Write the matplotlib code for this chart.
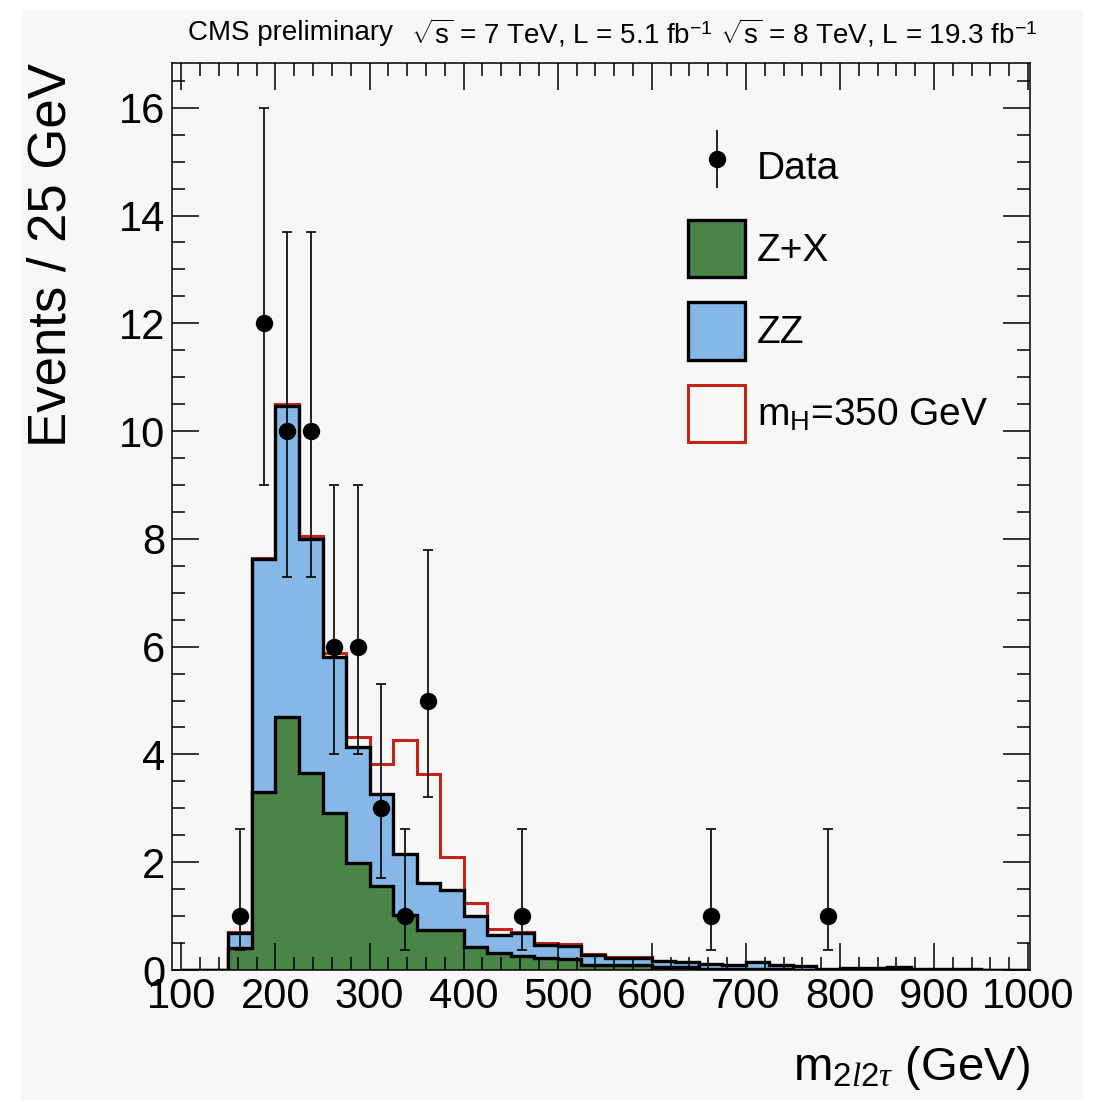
import matplotlib
matplotlib.use('Agg')
import matplotlib.pyplot as plt
import numpy as np
from matplotlib.ticker import MultipleLocator
from matplotlib.patches import Patch, Rectangle
from matplotlib.lines import Line2D

plt.rcParams['font.family'] = ['Liberation Sans', 'DejaVu Sans']
plt.rcParams['mathtext.fontset'] = 'custom'
plt.rcParams['mathtext.rm'] = 'Liberation Sans'
plt.rcParams['mathtext.sf'] = 'Liberation Sans'
plt.rcParams['mathtext.it'] = 'Liberation Serif:italic'

# bin edges, 25 GeV bins from 100 to 1000
edges = np.arange(100, 1001, 25)

# Z+X, total background (Z+X + ZZ) and total + signal (m_H = 350 GeV)
zx = [0, 0, 0.40, 3.30, 4.70, 3.65, 2.91, 1.99, 1.55, 1.02, 0.74, 0.74,
      0.43, 0.31, 0.26, 0.22, 0.20, 0.10, 0.09, 0.09, 0.06, 0.05, 0.02, 0.01,
      0.02, 0.01, 0, 0, 0, 0, 0, 0, 0, 0, 0, 0]
bkg_total = [0, 0, 0.68, 7.62, 10.46, 7.99, 5.81, 4.14, 3.26, 2.15, 1.62, 1.48,
             1.00, 0.65, 0.68, 0.46, 0.45, 0.28, 0.23, 0.23, 0.17, 0.15, 0.12, 0.10,
             0.14, 0.10, 0.07, 0.01, 0.03, 0.03, 0.06, 0.01, 0.01, 0.01, 0, 0]
sig_total = [0, 0, 0.70, 7.65, 10.51, 8.05, 5.89, 4.32, 3.83, 4.27, 3.63, 2.10,
             1.24, 0.77, 0.71, 0.50, 0.48, 0.29, 0.24, 0.24, 0.17, 0.15, 0.12, 0.10,
             0.14, 0.10, 0.07, 0.01, 0.03, 0.03, 0.06, 0.01, 0.01, 0.01, 0, 0]

# data points (bin centres, counts, asymmetric errors)
data_x = [162.5, 187.5, 212.5, 237.5, 262.5, 287.5, 312.5, 337.5, 362.5, 462.5, 662.5, 787.5]
data_n = [1, 12, 10, 10, 6, 6, 3, 1, 5, 1, 1, 1]
err_lo = [0.62, 3.0, 2.70, 2.70, 2.0, 2.0, 1.30, 0.62, 1.79, 0.62, 0.62, 0.62]
err_hi = [1.62, 4.0, 3.70, 3.70, 3.0, 3.0, 2.30, 1.62, 2.79, 1.62, 1.62, 1.62]

green = '#4a8447'
blue = '#85b8e7'
red = '#c42418'
bg = '#f7f7f7'

W, H = 1094, 1102
fig = plt.figure(figsize=(W / 100, H / 100), dpi=100, facecolor='white')
fig.patches.append(Rectangle((22 / W, 1 - 1100 / H), (1083 - 22) / W, (1100 - 10) / H,
                             transform=fig.transFigure, facecolor=bg, edgecolor='none', zorder=-10))

ax = fig.add_axes([172 / W, 1 - 970 / H, (1030 - 172) / W, (970 - 63) / H])
ax.set_facecolor(bg)

lw_black = 2.4
ax.stairs(sig_total, edges, baseline=0, fill=False, color=red, lw=2.2, zorder=1.2)
ax.stairs(bkg_total, edges, baseline=0, fill=True, facecolor=blue, edgecolor='none', zorder=1.3)
ax.stairs(bkg_total, edges, baseline=0, fill=False, color='black', lw=lw_black, zorder=1.4)
ax.stairs(zx, edges, baseline=0, fill=True, facecolor=green, edgecolor='none', zorder=1.5)
ax.stairs(zx, edges, baseline=0, fill=False, color='black', lw=lw_black, zorder=1.6)

ax.errorbar(data_x, data_n, yerr=[err_lo, err_hi], fmt='o', color='black',
            markersize=11.5, elinewidth=1.2, capsize=3.5, capthick=1.2, zorder=5)

ax.set_xlim(90, 1002)
ax.set_ylim(0, 16.83)
ax.xaxis.set_major_locator(MultipleLocator(100))
ax.xaxis.set_minor_locator(MultipleLocator(20))
ax.yaxis.set_major_locator(MultipleLocator(2))
ax.yaxis.set_minor_locator(MultipleLocator(0.5))
ax.set_axisbelow(False)
ax.tick_params(which='both', direction='in', top=True, right=True, width=1.1,
               labelsize=30, pad=5)
ax.tick_params(which='major', length=19.5)
ax.tick_params(which='minor', length=9.5)
for s in ax.spines.values():
    s.set_linewidth(1.1)

# axis titles
fig.text(52 / W, 1 - 63 / H, 'Events / 25 GeV', rotation=90, ha='center', va='top', fontsize=38)
fig.text(1030 / W, 1 - 1068 / H, r'm$_{\mathit{2l2}\tau}$ (GeV)', ha='right', va='center', fontsize=34)

# header
fig.text(188 / W, 1 - 33 / H, 'CMS preliminary', ha='left', va='center', fontsize=20)
fig.text(1037 / W, 1 - 33 / H,
         r'$\sqrt{\mathrm{s}}$ = 7 TeV, L = 5.1 fb$^{-1}$ $\sqrt{\mathrm{s}}$ = 8 TeV, L = 19.3 fb$^{-1}$',
         ha='right', va='center', fontsize=20)

# legend
h_data = (Line2D([], [], marker='|', markersize=42, mew=1.2, color='black', ls='none'),
          Line2D([], [], marker='o', markersize=11.5, color='black', ls='none'))
h_zx = Patch(facecolor=green, edgecolor='black', lw=2.4)
h_zz = Patch(facecolor=blue, edgecolor='black', lw=2.4)
h_sig = Patch(facecolor='none', edgecolor=red, lw=2.2)
ax.legend([h_data, h_zx, h_zz, h_sig], ['Data', 'Z+X', 'ZZ', r'm$_{\mathrm{H}}$=350 GeV'],
          loc='upper left', bbox_to_anchor=(688 / W, 1 - 138 / H), bbox_transform=fig.transFigure,
          frameon=False, fontsize=28, borderpad=0, borderaxespad=0,
          handlelength=1.47, handleheight=1.89, labelspacing=0.64, handletextpad=0.31)

fig.savefig('out.png', dpi=100, facecolor='white')
